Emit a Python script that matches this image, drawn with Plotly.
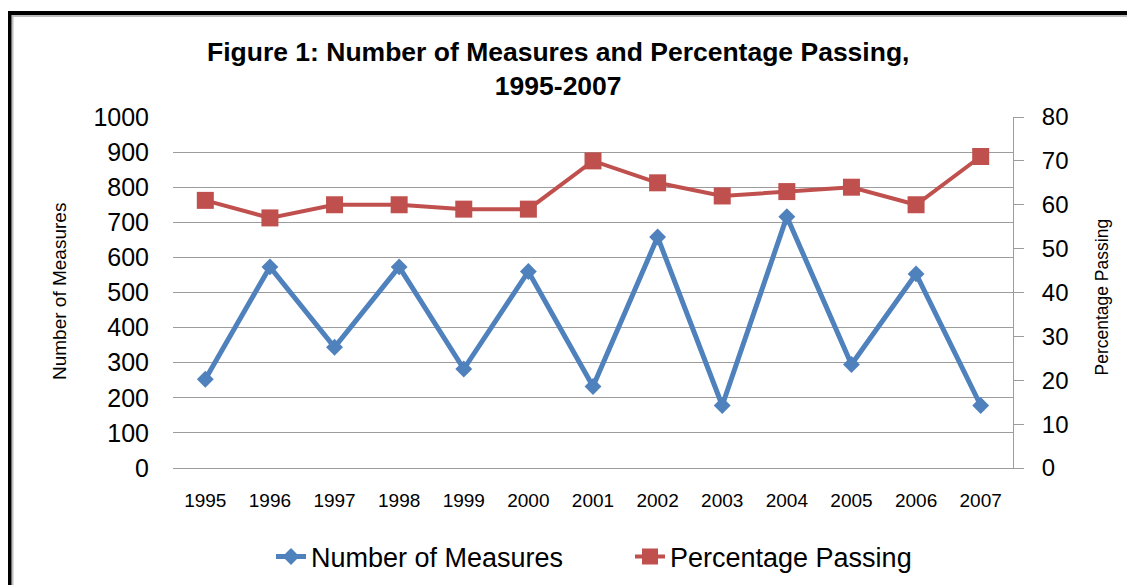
import plotly.graph_objects as go

years = ["1995", "1996", "1997", "1998", "1999", "2000", "2001",
         "2002", "2003", "2004", "2005", "2006", "2007"]
num_measures = [253, 573, 344, 573, 282, 560, 232, 658, 178, 716, 295, 553, 178]
pct_passing = [61, 57, 60, 60, 59, 59, 70, 65, 62, 63, 64, 60, 71]

OFF = 8  # page body margin of the browser
W, H = 1135 - OFF, 585 - OFF
# plot area in reference-screen pixels
L, R, T, B = 173, 1013, 117, 468
pw, ph = R - L, B - T

def px(x):
    return (x - L) / pw

def py(y):
    return (B - y) / ph

BLUE = "#4F81BD"
RED = "#C0504D"
GRID = "#9c9c9c"
FONT = "Liberation Sans, Arial, sans-serif"

fig = go.Figure()
fig.add_trace(go.Scatter(
    x=years, y=num_measures, name="Number of Measures", mode="lines+markers",
    line=dict(color=BLUE, width=5),
    marker=dict(symbol="diamond", size=13, color=BLUE),
    yaxis="y"))
fig.add_trace(go.Scatter(
    x=years, y=pct_passing, name="Percentage Passing", mode="lines+markers",
    line=dict(color=RED, width=4),
    marker=dict(symbol="square", size=17, color=RED),
    yaxis="y2"))

fig.update_layout(
    width=W, height=H,
    margin=dict(l=L - OFF, r=1135 - R, t=T - OFF, b=585 - B, pad=0, autoexpand=False),
    paper_bgcolor="white", plot_bgcolor="white",
    font=dict(family=FONT, color="#000000"),
    showlegend=True,
    legend=dict(orientation="h", x=px(271), xanchor="left", y=py(557), yanchor="middle",
                font=dict(size=27, family=FONT, color="#000000"),
                bgcolor="rgba(0,0,0,0)", entrywidth=314, entrywidthmode="pixels"),
    xaxis=dict(type="category", range=[-0.5, 12.5], showgrid=False, showline=True,
               linecolor=GRID, linewidth=1, ticks="", zeroline=False,
               tickfont=dict(size=19, family=FONT, color="#000000"),
               ticklabelstandoff=15),
    yaxis=dict(range=[0, 1000], dtick=100, showgrid=True, gridcolor=GRID, gridwidth=1,
               showline=False, zeroline=False, ticks="",
               tickfont=dict(size=25, family=FONT, color="#000000"),
               ticklabelstandoff=23),
    yaxis2=dict(range=[0, 80], dtick=10, overlaying="y", side="right", showgrid=False,
                showline=True, linecolor=GRID, linewidth=1, zeroline=False,
                ticks="outside", ticklen=10, tickcolor=GRID, tickwidth=1,
                tickfont=dict(size=24, family=FONT, color="#000000"),
                ticklabelstandoff=13),
)

fig.add_annotation(
    text="<b>Figure 1: Number of Measures and Percentage Passing,<br>1995-2007</b>",
    xref="paper", yref="paper", x=px(557.5), y=py(69), xanchor="center", yanchor="middle",
    showarrow=False, font=dict(size=26.5, family=FONT, color="#000000"))
fig.add_annotation(
    text="Number of Measures", textangle=-90,
    xref="paper", yref="paper", x=px(59), y=py(292), xanchor="center", yanchor="middle",
    showarrow=False, font=dict(size=19, family=FONT, color="#000000"))
fig.add_annotation(
    text="Percentage Passing", textangle=-90,
    xref="paper", yref="paper", x=px(1101), y=py(297.5), xanchor="center", yanchor="middle",
    showarrow=False, font=dict(size=17.5, family=FONT, color="#000000"))

# frame around the chart
fig.add_shape(type="path", xref="paper", yref="paper",
              path=f"M {px(12.5)} {py(600)} L {px(12.5)} {py(16)} L {px(1150)} {py(16)}",
              line=dict(color="#bdbdbd", width=2))
fig.add_shape(type="path", xref="paper", yref="paper",
              path=f"M {px(9.5)} {py(600)} L {px(9.5)} {py(13)} L {px(1150)} {py(13)}",
              line=dict(color="#000000", width=4))

fig.write_html("out.html")
